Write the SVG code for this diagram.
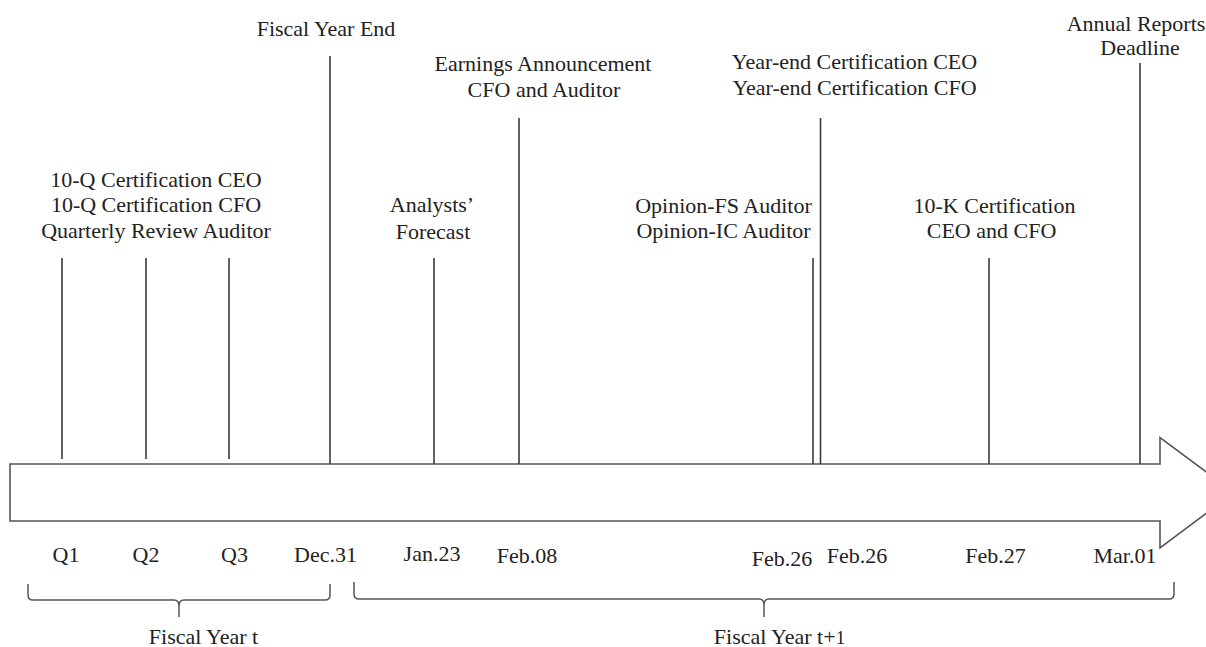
<svg xmlns="http://www.w3.org/2000/svg" width="1206" height="647" viewBox="0 0 1206 647">
<style>
text{font-family:"Liberation Serif","Times New Roman",serif;font-size:22px;fill:#222;text-anchor:middle}
.ln{stroke:#3a3a3a;stroke-width:1.6;fill:none}
.ar{stroke:#555;stroke-width:1.6;fill:#fff}
.br{stroke:#555;stroke-width:1.5;fill:none}
</style>
<rect width="1206" height="647" fill="#fff"/>
<g id="timeline-arrow">
<path class="ar" d="M10,464 H1160 V437.5 L1234,492.5 L1160,548 V521 H10 Z"/>
</g>
<g id="connectors">
<line class="ln" x1="62" y1="258" x2="62" y2="459"/>
<line class="ln" x1="146" y1="258" x2="146" y2="459"/>
<line class="ln" x1="229" y1="258" x2="229" y2="459"/>
<line class="ln" x1="330" y1="56" x2="330" y2="464"/>
<line class="ln" x1="434" y1="258" x2="434" y2="464"/>
<line class="ln" x1="519" y1="118" x2="519" y2="464"/>
<line class="ln" x1="813" y1="258" x2="813" y2="464"/>
<line class="ln" x1="820.5" y1="118" x2="820.5" y2="464"/>
<line class="ln" x1="989" y1="258" x2="989" y2="464"/>
<line class="ln" x1="1140" y1="63" x2="1140" y2="464"/>
</g>
<g id="quarterly">
<text x="156" y="187">10-Q Certification CEO</text>
<text x="156" y="212">10-Q Certification CFO</text>
<text x="156" y="238">Quarterly Review Auditor</text>
</g>
<g id="fiscal-year-end"><text x="326" y="36">Fiscal Year End</text></g>
<g id="analysts">
<text x="432" y="212">Analysts’</text>
<text x="433" y="239">Forecast</text>
</g>
<g id="earnings">
<text x="543" y="71">Earnings Announcement</text>
<text x="544" y="97">CFO and Auditor</text>
</g>
<g id="opinion">
<text x="723.5" y="213">Opinion-FS Auditor</text>
<text x="723.5" y="238">Opinion-IC Auditor</text>
</g>
<g id="year-end">
<text x="854.5" y="69">Year-end Certification CEO</text>
<text x="854.5" y="95">Year-end Certification CFO</text>
</g>
<g id="tenk">
<text x="994.5" y="213">10-K Certification</text>
<text x="991.5" y="238">CEO and CFO</text>
</g>
<g id="annual">
<text x="1136" y="31">Annual Reports</text>
<text x="1140" y="55">Deadline</text>
</g>
<g id="dates">
<text x="66" y="562">Q1</text>
<text x="146" y="562">Q2</text>
<text x="234.5" y="562">Q3</text>
<text x="325.5" y="562">Dec.31</text>
<text x="432" y="561">Jan.23</text>
<text x="527" y="563">Feb.08</text>
<text x="782" y="566">Feb.26</text>
<text x="857" y="563">Feb.26</text>
<text x="995.5" y="563">Feb.27</text>
<text x="1125" y="563">Mar.01</text>
</g>
<g id="fiscal-year-t">
<path class="br" d="M28,584 V595 Q28,600 33,600 H174 Q179,600 179,606 V617 M179,606 Q179,600 184,600 H325 Q330,600 330,595 V584"/>
<text x="203.5" y="644">Fiscal Year t</text>
</g>
<g id="fiscal-year-t1">
<path class="br" d="M354,582 V594 Q354,599 359,599 H759 Q764,599 764,605 V617 M764,605 Q764,599 769,599 H1169 Q1174,599 1174,594 V582"/>
<text x="779.5" y="644">Fiscal Year t+<tspan font-size="19">1</tspan></text>
</g>
</svg>
